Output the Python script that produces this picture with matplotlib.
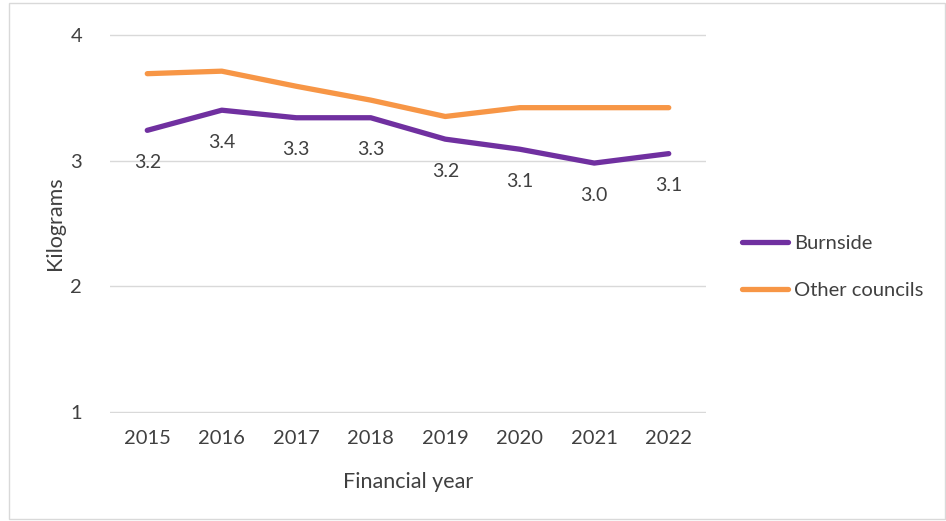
import numpy as np
import matplotlib.pyplot as plt
from matplotlib.patches import Rectangle

plt.rcParams['font.family'] = ['Lato', 'DejaVu Sans']

# data
years = ['2015', '2016', '2017', '2018', '2019', '2020', '2021', '2022']
burnside = [3.24, 3.40, 3.34, 3.34, 3.17, 3.09, 2.98, 3.055]
burnside_labels = ['3.2', '3.4', '3.3', '3.3', '3.2', '3.1', '3.0', '3.1']
other_councils = [3.69, 3.71, 3.59, 3.48, 3.35, 3.42, 3.42, 3.42]

purple = '#7030A0'
orange = '#F79646'
text_col = '#404040'

fig = plt.figure(figsize=(9.46, 5.21), dpi=100)
ax = fig.add_axes([0.1163, 0.2073, 0.63, 0.7274])

x = np.arange(len(years))
ax.plot(x, burnside, color=purple, lw=3.8, solid_capstyle='round', label='Burnside', zorder=3)
ax.plot(x, other_councils, color=orange, lw=3.8, solid_capstyle='round', label='Other councils', zorder=3)

# value labels under the Burnside line
for xi, yi, lab in zip(x, burnside, burnside_labels):
    ax.annotate(lab, (xi, yi), xytext=(0, -23), textcoords='offset points',
                ha='center', va='center', fontsize=14, color=text_col)

ax.set_xlim(-0.5, len(years) - 0.5)
ax.set_ylim(0.995, 4.005)
ax.set_yticks([1, 2, 3, 4])
ax.set_xticks(x)
ax.set_xticklabels(years)
ax.tick_params(length=0, labelsize=14.5, labelcolor=text_col)
ax.tick_params(axis='y', pad=20)
ax.tick_params(axis='x', pad=12)
ax.grid(axis='y', color='#d9d9d9', lw=1)
ax.set_axisbelow(True)
for s in ax.spines.values():
    s.set_visible(False)

ax.set_xlabel('Financial year', fontsize=15.5, color=text_col, labelpad=18)
ax.set_ylabel('Kilograms', fontsize=15.5, color=text_col, labelpad=4)

leg = ax.legend(loc='center left', bbox_to_anchor=(1.03, 0.385), frameon=False,
                fontsize=14.5, handlelength=2.3, handletextpad=0.3, labelspacing=1.5)
for t in leg.get_texts():
    t.set_color(text_col)

# light outer frame
fig.patches.append(Rectangle((0.009, 0.004), 0.99, 0.99, transform=fig.transFigure,
                             fill=False, edgecolor='#d9d9d9', lw=1))

plt.savefig('out.png', dpi=100)
